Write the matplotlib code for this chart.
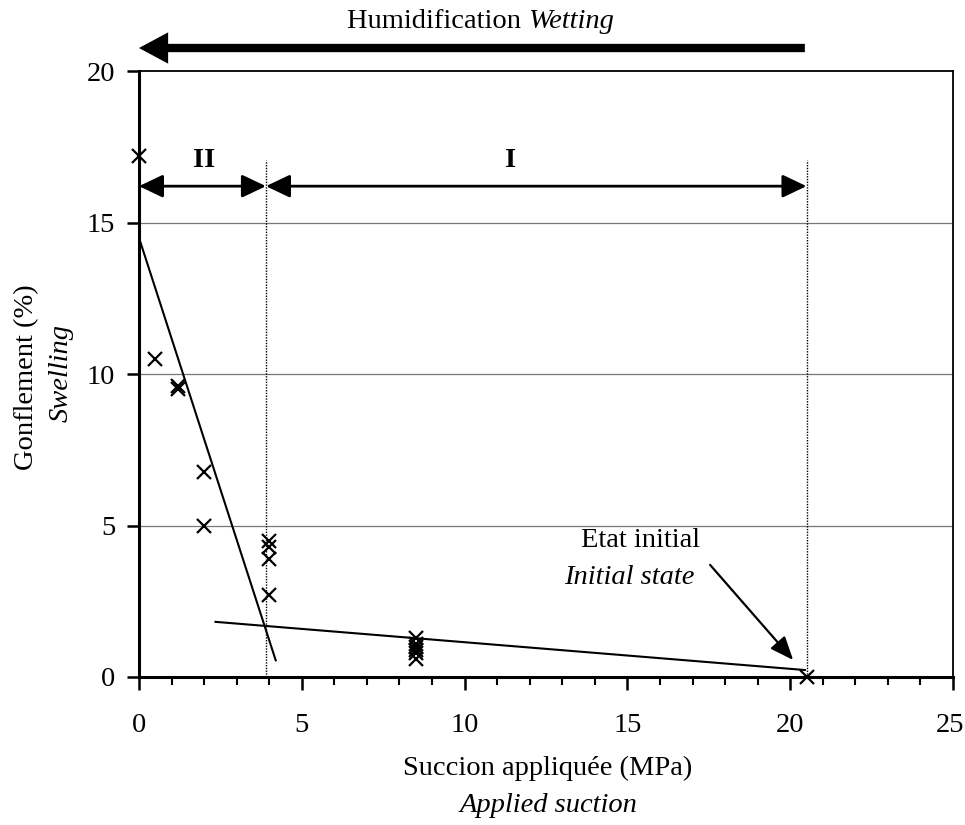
import matplotlib
matplotlib.use("Agg")
import matplotlib.pyplot as plt
import matplotlib.transforms as mtransforms
from matplotlib.ticker import MultipleLocator

plt.rcParams['font.family'] = ['Liberation Serif', 'DejaVu Serif']
FS = 20.5

# Measured swelling vs applied suction
suction = [0.0, 0.5, 1.2, 1.2, 2.0, 2.0, 4.0, 4.0, 4.0, 4.0,
           8.5, 8.5, 8.5, 8.5, 8.5, 8.5, 20.5]
swelling = [17.2, 10.5, 9.6, 9.5, 6.75, 5.0, 4.5, 4.3, 3.9, 2.7,
            1.3, 1.1, 1.0, 0.9, 0.8, 0.6, 0.0]

# Trend lines (zone II steep, zone I flat)
trend_II_x = [0.0, 4.2]
trend_II_y = [14.5, 0.55]
trend_I_x = [2.35, 20.45]
trend_I_y = [1.82, 0.23]

# Zone boundaries
boundaries = [3.9, 20.5]
zone_labels = ["II", "I"]

x_ticks = [0, 5, 10, 15, 20, 25]
y_ticks = [0, 5, 10, 15, 20]

fig = plt.figure(figsize=(9.65, 8.25), dpi=100)
ax = fig.add_axes([0.144, 0.1794, 0.8436, 0.7345])

ax.set_xlim(0, 25)
ax.set_ylim(0, 20)
ax.set_xticks(x_ticks)
ax.set_yticks(y_ticks)
ax.xaxis.set_minor_locator(MultipleLocator(1))

for y in [5, 10, 15]:
    ax.axhline(y, color='#777777', lw=0.9, zorder=0)

ax.plot(trend_II_x, trend_II_y, color='black', lw=1.5)
ax.plot(trend_I_x, trend_I_y, color='black', lw=1.5)

ax.plot(suction, swelling, linestyle='none', marker='x', color='black',
        markersize=10, markeredgewidth=1.6, clip_on=False, zorder=5)

for b in boundaries:
    ax.plot([b, b], [0, 17.05], color='black', lw=1.0, linestyle=(0, (1, 1)))

arrow_y = 16.2
edges = [0.0] + boundaries
for i, lab in enumerate(zone_labels):
    x0, x1 = edges[i], edges[i + 1]
    ax.annotate('', xy=(x1, arrow_y), xytext=(x0, arrow_y),
                arrowprops=dict(arrowstyle='<|-|>,head_length=1.05,head_width=0.5',
                                mutation_scale=14, color='black', lw=2,
                                shrinkA=0, shrinkB=0))
ax.text(2.0, 17.05, zone_labels[0], ha='center', va='center',
        fontsize=FS, fontweight='bold')
ax.text(11.4, 17.05, zone_labels[1], ha='center', va='center',
        fontsize=FS, fontweight='bold')

# Wetting direction arrow above the plot
ax.annotate('', xy=(0.0, 20.76), xytext=(20.45, 20.76),
            arrowprops=dict(arrowstyle='simple,head_length=1.4,head_width=1.5,tail_width=0.4',
                            mutation_scale=15, color='black', lw=0,
                            shrinkA=0, shrinkB=0),
            annotation_clip=False)
fig.text(528 / 965, 1 - 22 / 825, 'Humidification ', ha='right', va='center', fontsize=FS)
fig.text(528 / 965, 1 - 22 / 825, 'Wetting', ha='left', va='center', fontsize=FS,
         style='italic')

# Initial state annotation
ax.annotate('', xy=(20.09, 0.56), xytext=(17.54, 3.7),
            arrowprops=dict(arrowstyle='-|>,head_length=1.1,head_width=0.45',
                            mutation_scale=13, color='black', lw=1.6,
                            shrinkA=0, shrinkB=0))
ax.text(15.39, 4.49, 'Etat initial', ha='center', va='center', fontsize=FS)
ax.text(15.05, 3.27, 'Initial state', ha='center', va='center', fontsize=FS,
        style='italic')

for side in ['left', 'bottom']:
    ax.spines[side].set_linewidth(2.2)
for side in ['top', 'right']:
    ax.spines[side].set_linewidth(1.3)

ax.tick_params(axis='both', which='major', direction='out', length=9, width=1.8,
               labelsize=FS, colors='black')
ax.tick_params(axis='x', which='major', pad=17)
ax.tick_params(axis='y', which='major', pad=8)
ax.tick_params(axis='x', which='minor', direction='out', length=6, width=1.5)

# keep the last x tick label inside the figure
last = ax.get_xticklabels()[-1]
last.set_transform(last.get_transform() +
                   mtransforms.ScaledTranslation(-3 / 100, 0, fig.dpi_scale_trans))

fig.text(548 / 965, 1 - 768 / 825, 'Succion appliquée (MPa)',
         ha='center', va='center', fontsize=FS)
fig.text(548 / 965, 1 - 805 / 825, 'Applied suction',
         ha='center', va='center', fontsize=FS, style='italic')
fig.text(27 / 965, 1 - 377 / 825, 'Gonflement (%)', rotation=90,
         ha='center', va='center', fontsize=FS)
fig.text(61 / 965, 1 - 373 / 825, 'Swelling', rotation=90,
         ha='center', va='center', fontsize=FS, style='italic')

fig.savefig('out.png', dpi=100)
